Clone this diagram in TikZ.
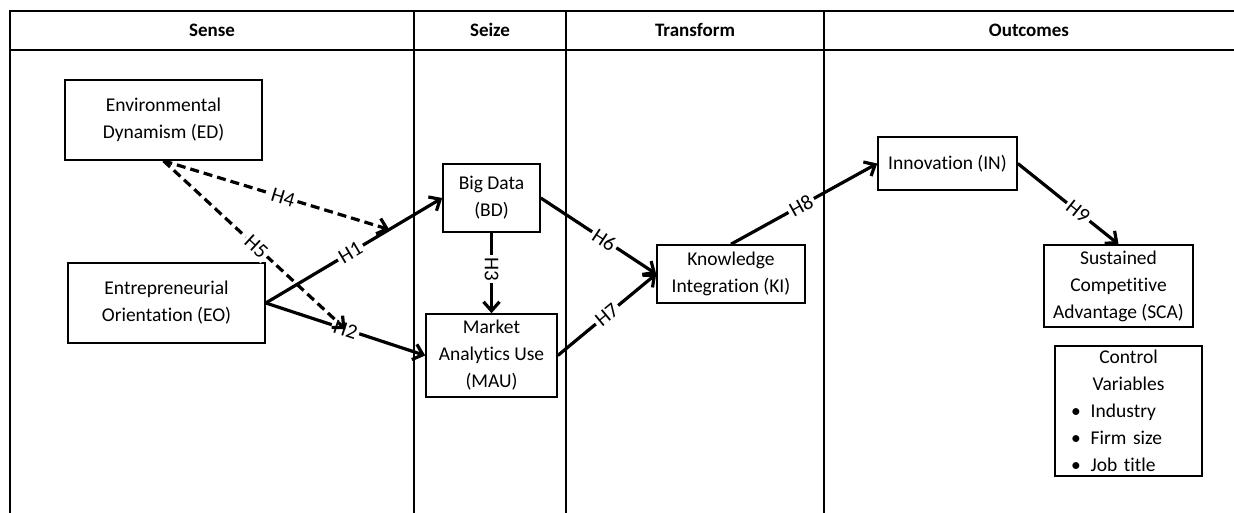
\documentclass[tikz,border=0pt]{standalone}
\usepackage{fontspec}
\setmainfont{Carlito}[Ligatures={NoCommon}]
\usepackage{tikz}
\usetikzlibrary{arrows.meta}

\begin{document}
\begin{tikzpicture}[x=1pt, y=-1pt,
    every node/.style={font=\fontsize{19.5}{27}\selectfont},
    lane/.style={line width=1.6pt},
    head/.style={font=\fontsize{19}{27}\selectfont\bfseries},
    box/.style={draw, line width=1.6pt, align=center, inner sep=2pt},
    conn/.style={-{Straight Barb[length=9pt, width=16pt]}, line width=3.2pt},
    dconn/.style={conn, dash pattern=on 9pt off 5pt},
    hlabel/.style={sloped, fill=white, inner sep=2.5pt, font=\fontsize{21}{24}\selectfont}]
    \useasboundingbox (0,0) rectangle (1234,513);

    % Lanes and header row
    \draw[lane] (10,513) -- (10,11) -- (1234,11);
    \draw[lane] (10,50) -- (1234,50);
    \foreach \x in {414,566,824}
        \draw[lane] (\x,11) -- (\x,513);
    \node[head] (sense) at (212,30) {Sense};
    \node[head] (seize) at (490,30) {Seize};
    \node[head] (transform) at (695,30) {Transform};
    \node[head] (outcomes) at (1029,30) {Outcomes};

    % Sense
    \node[box, minimum width=197pt, minimum height=80pt] (ED) at (163.5,120) {Environmental\\Dynamism (ED)};
    \node[box, minimum width=197pt, minimum height=80pt] (EO) at (166.5,303) {Entrepreneurial\\Orientation (EO)};

    % Seize
    \node[box, minimum width=97pt, minimum height=68pt] (BD) at (491.5,198) {Big Data\\(BD)};
    \node[box, minimum width=131pt, minimum height=83pt] (MAU) at (491.5,355.5) {Market\\Analytics Use\\(MAU)};

    % Transform
    \node[box, minimum width=148pt, minimum height=58pt] (KI) at (731,274) {Knowledge\\Integration (KI)};

    % Outcomes
    \node[box, minimum width=139pt, minimum height=53pt] (IN) at (947.5,163.5) {Innovation (IN)};
    \node[box, minimum width=149pt, minimum height=82pt] (SCA) at (1118.5,286) {Sustained\\Competitive\\Advantage (SCA)};
    \node[box, minimum width=147pt, minimum height=130pt, text width=115pt, align=left] (CV) at (1128.5,411)
        {\makebox[115pt]{Control}\\\makebox[115pt]{Variables}\\
         \textbullet\hspace{10pt}Industry\\\textbullet\hspace{10pt}Firm size\\\textbullet\hspace{10pt}Job title};

    % Hypotheses
    \draw[conn] (EO.east) -- (BD.west) node[hlabel, pos=0.48] {H1};
    \draw[conn] (EO.east) -- (MAU.west) node[hlabel, pos=0.5] {H2};
    \draw[conn] (BD.south) -- (MAU.north) node[hlabel, pos=0.45] {H3};
    \draw[conn] (BD.east) -- (KI.west) node[hlabel, pos=0.55] {H6};
    \draw[conn] (MAU.east) -- (KI.west) node[hlabel, pos=0.5] {H7};
    \draw[conn] (KI.north) -- (IN.west) node[hlabel, pos=0.48] {H8};
    \draw[conn] (IN.east) -- (SCA.north) node[hlabel, pos=0.6] {H9};

    % Moderation (dashed) onto the H1 and H2 paths
    \path (EO.east) -- (BD.west) coordinate[pos=0.7] (onH1);
    \path (EO.east) -- (MAU.west) coordinate[pos=0.5] (onH2);
    \draw[dconn] (ED.south) -- (onH1) node[hlabel, pos=0.53] {H4};
    \draw[dconn] (ED.south) -- (onH2) node[hlabel, pos=0.51] {H5};
\end{tikzpicture}
\end{document}
